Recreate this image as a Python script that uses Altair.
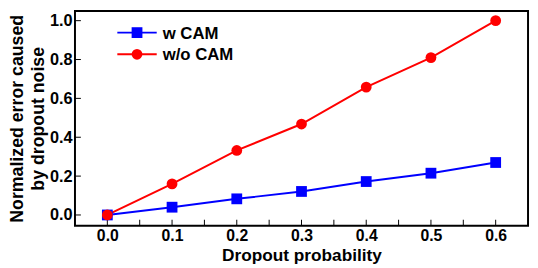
import altair as alt
import pandas as pd

prob = [0.0, 0.1, 0.2, 0.3, 0.4, 0.5, 0.6]
w_cam = [0.0, 0.04, 0.083, 0.121, 0.172, 0.215, 0.27]
wo_cam = [0.0, 0.16, 0.332, 0.468, 0.658, 0.81, 1.0]
series_names = ["w CAM", "w/o CAM"]
series_colors = ["#0000FF", "#FF0000"]
series_shapes = ["square", "circle"]
x_tick_values = [0.0, 0.1, 0.2, 0.3, 0.4, 0.5, 0.6]
x_minor_ticks = [0.0, 0.05, 0.1, 0.15, 0.2, 0.25, 0.3, 0.35, 0.4, 0.45, 0.5, 0.55, 0.6]
y_tick_values = [0.0, 0.2, 0.4, 0.6, 0.8, 1.0]
x_title = "Dropout probability"
y_title = ["Normalized error caused", "by dropout noise"]

W, H = 460, 218
TICK = 6

df = pd.DataFrame({
    "p": prob * 2,
    "err": w_cam + wo_cam,
    "series": [series_names[0]] * len(prob) + [series_names[1]] * len(prob),
})
xt_df = pd.DataFrame({"p": x_minor_ticks})
yt_df = pd.DataFrame({"err": y_tick_values})
legend_df = pd.DataFrame({"series": series_names})

xscale = alt.Scale(domain=[-0.05, 0.65], nice=False, zero=False)
yscale = alt.Scale(domain=[-0.055, 1.05], nice=False, zero=False)
color_scale = alt.Scale(domain=series_names, range=series_colors)
shape_scale = alt.Scale(domain=series_names, range=series_shapes)

x_enc = alt.X(
    "p:Q", scale=xscale,
    axis=alt.Axis(values=x_tick_values, format=".1f", title=x_title, ticks=False,
                  domain=False, grid=False, labelPadding=2, titlePadding=3,
                  labelFontSize=16, labelFontWeight="bold", titleFontSize=17.5,
                  titleFontWeight="bold", labelColor="black", titleColor="black"),
)
y_enc = alt.Y(
    "err:Q", scale=yscale,
    axis=alt.Axis(values=y_tick_values, format=".1f", title=y_title, ticks=False,
                  domain=False, grid=False, labelPadding=3,
                  labelFontSize=16.5, labelFontWeight="bold", titleFontSize=18,
                  titleFontWeight="bold", labelColor="black", titleColor="black",
                  titleX=-67, titleY=H / 2, titleAngle=270, titleAlign="center",
                  titleBaseline="top", titleLineHeight=21),
)
color_enc = alt.Color("series:N", scale=color_scale, legend=None)
shape_enc = alt.Shape("series:N", scale=shape_scale, legend=None)

lines = alt.Chart(df).mark_line(strokeWidth=2).encode(x=x_enc, y=y_enc, color=color_enc)
points = alt.Chart(df).mark_point(filled=True, opacity=1, size=120).encode(
    x=x_enc, y=y_enc, color=color_enc, shape=shape_enc,
)
xticks = alt.Chart(xt_df).mark_rule(color="black", strokeWidth=1).encode(
    x=x_enc, y=alt.value(H), y2=alt.value(H - TICK)
)
yticks = alt.Chart(yt_df).mark_rule(color="black", strokeWidth=1).encode(
    y=y_enc, x=alt.value(0), x2=alt.value(TICK)
)
main = alt.layer(xticks, yticks, lines, points)

# legend rows (inside the plot, top-left)
ly = alt.Y("series:N", scale=alt.Scale(type="point", domain=series_names, range=[22, 44], padding=0), axis=None)
leg_rule = alt.Chart(legend_df).mark_rule(strokeWidth=2).encode(
    y=ly, x=alt.value(43), x2=alt.value(83), color=color_enc
)
leg_pts = alt.Chart(legend_df).mark_point(filled=True, opacity=1, size=120).encode(
    y=ly, x=alt.value(63), color=color_enc, shape=shape_enc
)
leg_txt = alt.Chart(legend_df).mark_text(
    align="left", baseline="middle", fontSize=17, fontWeight="bold", color="black", dy=1
).encode(y=ly, x=alt.value(89), text="series:N")

chart = alt.layer(main, leg_rule, leg_pts, leg_txt).resolve_scale(y="independent").properties(
    width=W, height=H, autosize="none",
    padding={"left": 68, "top": 1, "right": 2, "bottom": 41},
).configure(font="Liberation Sans").configure_view(stroke="black", strokeWidth=2)

chart.save("out.html", embed_options={"renderer": "svg", "actions": False})
